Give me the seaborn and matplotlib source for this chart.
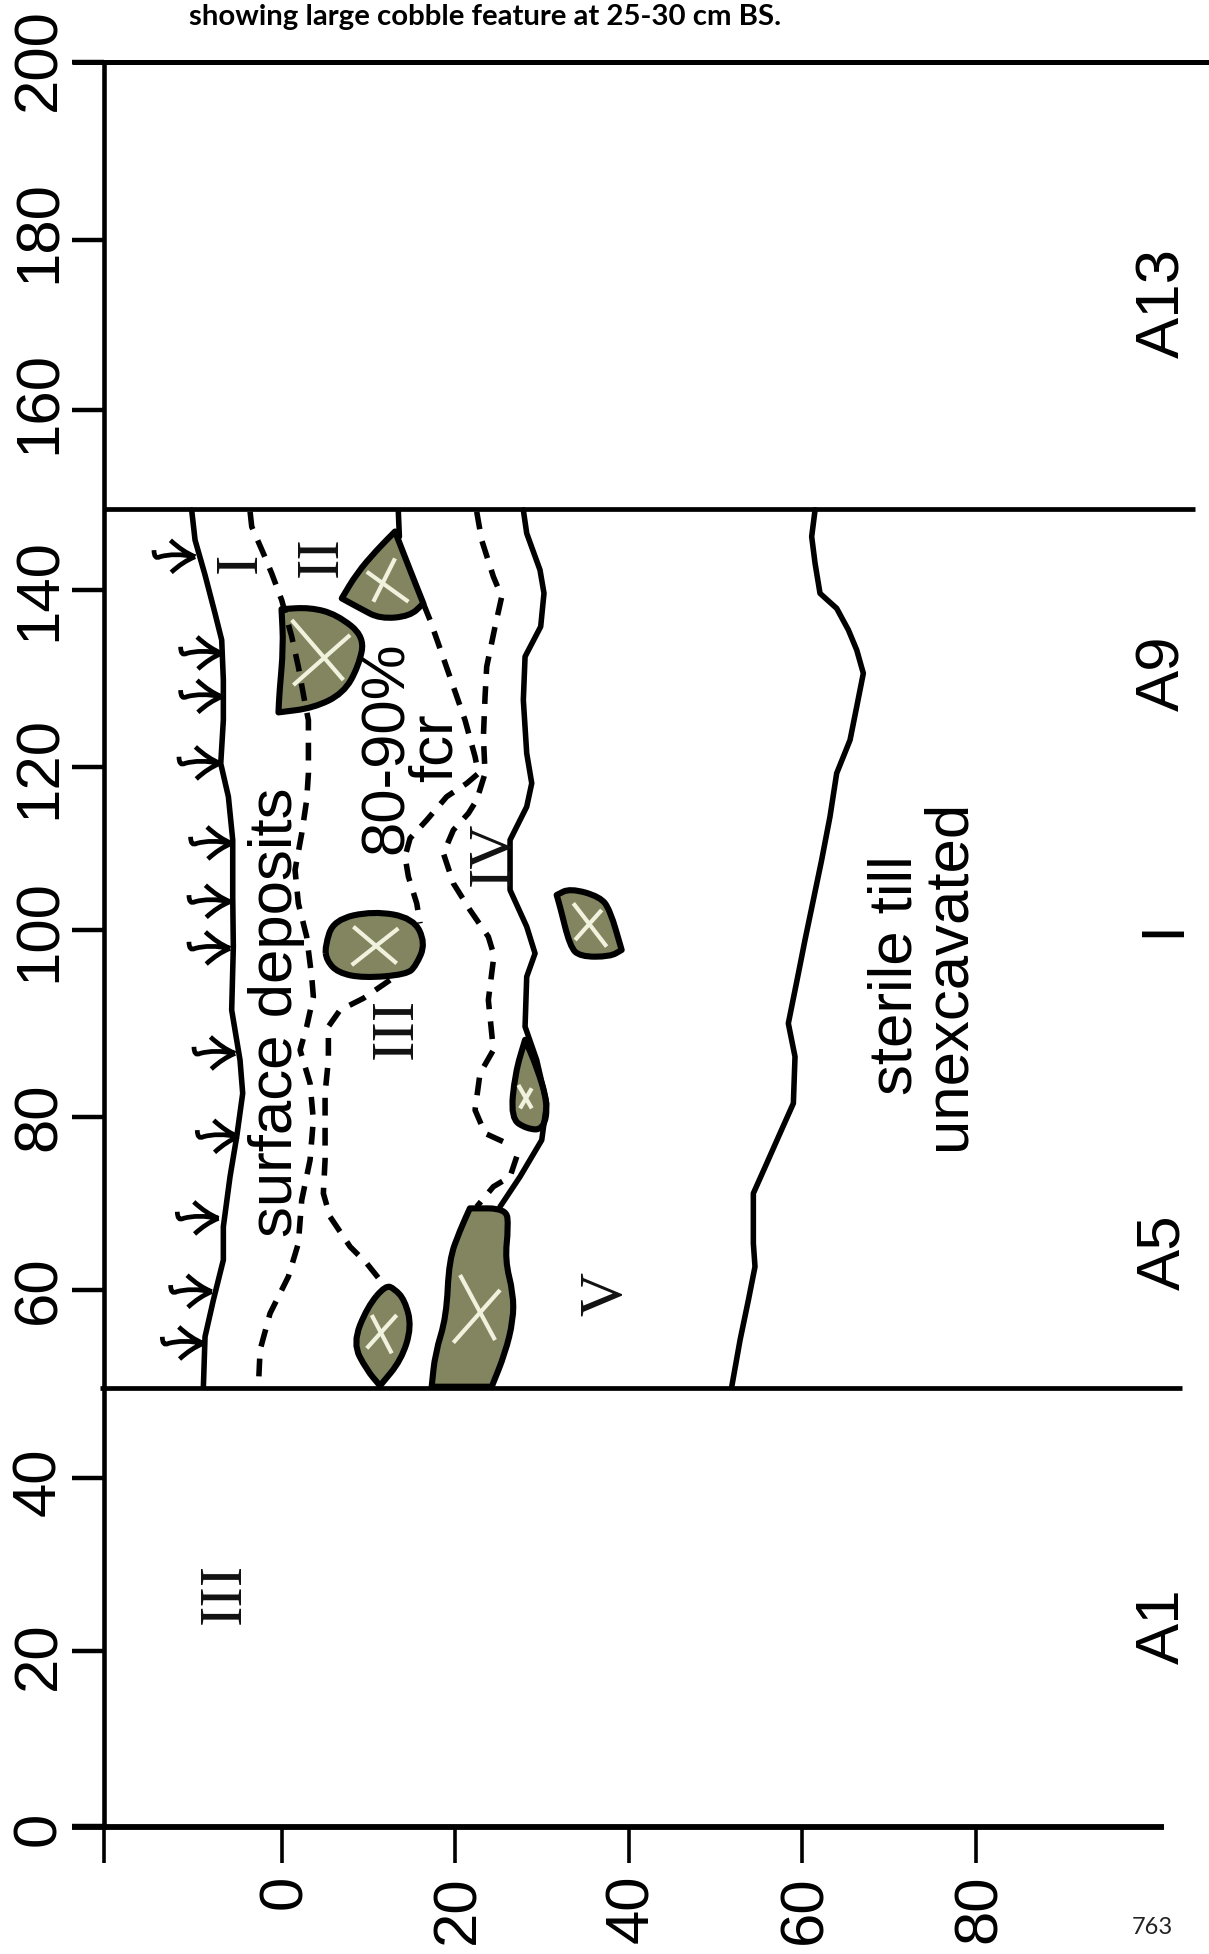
import matplotlib
matplotlib.use("Agg")
import matplotlib.pyplot as plt
from matplotlib.path import Path
from matplotlib.patches import PathPatch
from matplotlib.transforms import ScaledTranslation
import seaborn as sns

# ---- axis values
x_ticks = [0, 20, 40, 60, 80]
y_tick_labels = [0, 20, 40, 60, 80, 100, 120, 140, 160, 180, 200]
# the scanned vertical axis is slightly uneven: ticks as they sit on the picture
y_tick_positions = [0.15, 20.0, 39.6, 60.85, 80.45, 101.6, 120.1, 140.2, 160.6, 179.8, 200]
y_label_shift_px = [3, 5, 4, 0, 0, 0, 0, 0, -7, -9, -2]
x_limits = (-20.45, 101.67)
y_limits = (0, 200)
upper_unit_line = 149.4
lower_unit_line = 49.8

# ---- stratigraphic contacts: depth (cm) and distance along the profile (cm)
surface_depth = [-10.35, -9.96, -8.81, -7.66, -6.89, -6.70, -6.70, -7.0, -6.12, -5.62, -5.62, -5.55,
                 -5.74, -4.78, -4.47, -5.16, -5.93, -6.70, -6.70, -7.85, -8.81, -9.0]
surface_dist = [149.23, 145.83, 141.87, 137.52, 134.5, 129.97, 125.43, 120.5, 116.75, 111.84, 105.4, 99.75,
                92.57, 86.91, 83.13, 78.22, 73.69, 68.02, 64.25, 59.71, 55.56, 49.89]

contact1_depth = [-3.62, -3.43, -2.09, -1.13, 0.02, 1.18, 1.94, 2.71, 3.10, 3.10, 2.90, 2.33, 1.56, 1.94,
                  2.90, 3.48, 3.67, 2.90, 2.14, 3.29, 3.67, 3.29, 2.33, 1.94, 0.79, -1.32, -2.47, -2.66]
contact1_dist = [149.04, 147.34, 144.32, 142.05, 139.03, 134.88, 131.48, 127.32, 125.43, 119.39, 116.37,
                 112.59, 108.44, 104.66, 100.88, 96.35, 94.09, 90.69, 88.04, 84.26, 80.11, 75.58, 71.04,
                 66.14, 62.36, 58.2, 54.05, 49.89]

contact2_top_depth = [13.46, 13.58]
contact2_top_dist = [149.04, 146.21]
contact2_mid_depth = [16.34, 17.11, 18.46, 19.80, 21.14, 22.30, 22.68, 21.34, 19.03, 16.73, 14.81, 14.23,
                      14.62, 15.58, 15.96]
contact2_mid_dist = [138.65, 136.77, 132.99, 129.21, 125.43, 121.28, 119.39, 118.26, 116.75, 114.1, 112.03,
                     109.95, 107.68, 104.66, 102.39]
contact2_low_depth = [12.50, 9.43, 6.74, 5.40, 5.40, 5.02, 5.02, 5.02, 4.82, 5.59, 7.90, 9.82, 12.12]
contact2_low_dist = [95.97, 93.9, 92.57, 90.69, 86.91, 83.13, 79.35, 75.58, 71.8, 69.16, 65.76, 63.87, 61.04]

contact3_depth = [22.49, 23.06, 24.41, 25.37, 24.6, 23.64, 23.45, 23.26, 23.45, 22.49, 21.53, 19.80, 18.65,
                  19.80, 21.72, 23.83, 24.41, 24.41, 23.83, 24.41, 22.87, 22.3, 23.45, 25.56]
contact3_dist = [149.04, 145.83, 141.68, 139.41, 136.01, 131.48, 128.08, 123.55, 119.39, 116.37, 114.86,
                 112.97, 110.33, 106.93, 103.9, 100.88, 98.99, 98.24, 93.71, 88.04, 85.4, 81.24, 78.6, 77.65]
contact3_low_depth = [27.1, 26.33, 24.41, 22.49]
contact3_low_dist = [75.96, 73.69, 72.56, 70.29]

contact4_depth = [27.86, 28.25, 29.78, 30.24, 29.86, 28.06, 27.86, 28.25, 28.83, 28.25, 26.33, 26.33, 28.25,
                  29.21, 28.25, 28.06, 29.4, 30.55, 29.98, 27.48, 25.18]
contact4_dist = [149.24, 146.59, 142.44, 139.8, 136.02, 132.62, 127.7, 121.66, 118.27, 115.61, 111.84,
                 106.17, 102.02, 98.99, 96.35, 90.69, 86.91, 82.0, 77.84, 73.69, 70.29]

till_depth = [61.47, 61.08, 61.47, 62.04, 63.96, 65.31, 66.27, 67.03, 66.27, 65.5, 63.96, 63.19, 62.23, 61.27,
              60.31, 59.55, 58.39, 59.16, 58.97, 57.43, 55.9, 54.36, 54.36, 54.55, 53.79, 52.83, 51.87]
till_dist = [149.24, 146.22, 143.19, 139.79, 138.09, 135.64, 133.37, 130.73, 126.95, 123.17, 119.4, 114.49,
             109.58, 105.04, 100.51, 96.73, 91.06, 87.29, 82.0, 78.6, 75.2, 71.8, 66.14, 63.49, 59.71, 55.18,
             49.89]

# ---- cobbles (outline, then the two strokes of each cross); a repeated point is a sharp corner
cobble_a_depth = [13.08, 13.08, 14.81, 16.34, 16.34, 14.81, 11.35, 9.05, 6.94, 6.94, 8.66, 10.97]
cobble_a_dist = [146.8, 146.8, 142.43, 138.65, 138.65, 137.2, 136.9, 138.09, 139.22, 139.22, 142.05, 144.7]
cobble_b_depth = [0.0, 0.0, 3.29, 6.36, 9.6, 8.86, 7.13, 3.67, -0.35, -0.35, -0.25, 0.22]
cobble_b_dist = [138.0, 138.0, 138.2, 137.4, 134.88, 131.48, 128.46, 126.8, 126.3, 126.3, 128.46, 133.74]
cobble_c_depth = [5.0, 6.0, 10.58, 15.19, 16.6, 15.5, 14.42, 9.43, 6.5, 5.2]
cobble_c_dist = [99.75, 102.8, 103.8, 103.0, 100.13, 97.6, 96.6, 96.2, 96.8, 98.2]
cobble_d_depth = [31.7, 31.7, 33.24, 36.7, 37.85, 39.19, 39.19, 37.85, 34.39, 33.24, 32.09]
cobble_d_dist = [105.61, 105.61, 106.37, 105.42, 103.91, 99.38, 99.38, 98.62, 98.62, 99.76, 104.29]
cobble_e_depth = [28.06, 28.06, 29.4, 30.7, 30.2, 28.25, 26.4, 26.91]
cobble_e_dist = [89.2, 89.2, 86.15, 82.0, 79.0, 79.1, 80.3, 85.4]
cobble_f_depth = [21.7, 21.7, 25.9, 26.14, 25.75, 26.7, 26.7, 25.76, 24.22, 24.22, 17.3, 17.3, 17.7, 19.0,
                  19.3, 20.57]
cobble_f_dist = [70.1, 70.1, 70.1, 68.02, 64.25, 60.47, 57.45, 53.67, 49.89, 49.89, 49.89, 49.89, 53.67, 57.82,
                 64.25, 67.64]
cobble_g_depth = [12.0, 13.0, 14.2, 15.0, 13.8, 11.35, 11.35, 9.82, 8.2, 9.9]
cobble_g_dist = [61.4, 61.0, 59.71, 56.69, 52.91, 50.0, 50.0, 51.78, 54.8, 58.96]

cross_a = [[13.08, 10.58, 143.75, 138.84], [9.82, 14.62, 142.24, 138.84]]
cross_b = [[1.18, 7.13, 136.77, 129.97], [1.37, 7.90, 129.4, 135.07]]
cross_c = [[8.09, 13.46, 97.67, 101.83], [8.28, 13.27, 102.02, 97.86]]
cross_d = [[33.62, 37.46, 104.67, 99.76], [33.82, 36.89, 100.51, 103.91]]
cross_e = [[27.29, 28.83, 84.08, 81.43], [27.48, 28.83, 81.43, 83.7]]
cross_f = [[20.57, 24.6, 62.55, 55.18], [19.8, 25.18, 54.88, 60.85]]
cross_g = [[10.39, 12.7, 58.01, 53.67], [9.82, 13.27, 54.24, 58.01]]

# ---- vegetation symbols on the surface
plant_depth = [-9.96, -6.89, -6.89, -7.08, -5.74, -5.93, -5.93, -5.35, -4.97, -7.27, -8.04, -9.0]
plant_dist = [143.94, 132.99, 128.08, 120.53, 111.46, 104.85, 99.56, 87.66, 78.22, 68.97, 60.66, 54.8]

# ---- labels
unit_labels = ["A13", "A9", "I", "A5", "A1"]
unit_dist = [172.7, 130.76, 101.8, 65.08, 22.7]
roman_labels = ["I", "II", "III", "IV", "V", "III"]
roman_depth = [-4.7, 4.64, 13.25, 24.45, 37.5, -6.55]
roman_dist = [143.2, 143.9, 90.5, 110.3, 60.4, 26.5]
caption = "showing large cobble feature at 25-30 cm BS."
page_number = "763"

sns.set_theme(style="white")
plt.rcParams["font.family"] = ["Liberation Sans", "DejaVu Sans"]

W, H = 1209, 1954
fig = plt.figure(figsize=(W / 100, H / 100), dpi=100, facecolor="white")
ax = fig.add_axes([104 / W, (H - 1827) / H, 1060 / W, 1765 / H])
ax.set_xlim(*x_limits)
ax.set_ylim(*y_limits)
ax.set_facecolor("none")
for side in ["top", "right", "bottom"]:
    ax.spines[side].set_visible(False)
ax.spines["left"].set_color("black")
ax.spines["left"].set_linewidth(3.3)

ax.set_xticks([x_limits[0]] + x_ticks)
ax.set_xticklabels([""] + [str(v) for v in x_ticks], rotation=90, fontsize=44.5, color="black")
ax.set_yticks(y_tick_positions)
ax.set_yticklabels([str(v) for v in y_tick_labels], rotation=90, va="center", fontsize=44.5, color="black")
ax.tick_params(axis="x", length=26, width=2.6, color="black", pad=8.5, bottom=True)
ax.tick_params(axis="y", length=23, width=3.2, color="black", pad=2.5, left=True)
for lab in ax.get_xticklabels():
    lab.set_transform(lab.get_transform() + ScaledTranslation(4 / 100, 0, fig.dpi_scale_trans))
for lab, dy in zip(ax.get_yticklabels(), y_label_shift_px):
    lab.set_transform(lab.get_transform() + ScaledTranslation(0, -dy / 100, fig.dpi_scale_trans))

# frame lines extending past the axes
rule_kw = dict(color="black", clip_on=False, zorder=6)
ax.hlines(0, -24.1, 101.67, linewidth=4.2, **rule_kw)
ax.hlines(200, -24.1, 106.9, linewidth=3.6, **rule_kw)
ax.hlines(upper_unit_line, -20.45, 105.2, linewidth=3.4, **rule_kw)
ax.hlines(lower_unit_line, -20.9, 103.8, linewidth=3.4, **rule_kw)

LW = 4.0
DASH = (0, (3.2, 2.2))


def contact(x, y, dashed=False):
    kw = dict(linestyle=DASH) if dashed else dict(solid_joinstyle="round", solid_capstyle="round")
    sns.lineplot(x=x, y=y, sort=False, estimator=None, color="black", linewidth=LW, ax=ax, zorder=4, **kw)


contact(surface_depth, surface_dist)
contact(contact1_depth, contact1_dist, True)
contact(contact2_top_depth, contact2_top_dist)
contact(contact2_mid_depth, contact2_mid_dist, True)
contact(contact2_low_depth, contact2_low_dist, True)
contact(contact3_depth, contact3_dist, True)
contact(contact3_low_depth, contact3_low_dist, True)
contact(contact4_depth, contact4_dist)
contact(till_depth, till_dist)


def rounded_outline(xs, ys):
    """Closed outline with the read points as quadratic control points."""
    n = len(xs)
    mid = lambda i: ((xs[i % n] + xs[(i + 1) % n]) / 2, (ys[i % n] + ys[(i + 1) % n]) / 2)
    verts, codes = [mid(-1)], [Path.MOVETO]
    for i in range(n):
        verts += [(xs[i], ys[i]), mid(i)]
        codes += [Path.CURVE3, Path.CURVE3]
    return Path(verts, codes)


cobbles = [
    (cobble_a_depth, cobble_a_dist, cross_a),
    (cobble_b_depth, cobble_b_dist, cross_b),
    (cobble_c_depth, cobble_c_dist, cross_c),
    (cobble_d_depth, cobble_d_dist, cross_d),
    (cobble_e_depth, cobble_e_dist, cross_e),
    (cobble_f_depth, cobble_f_dist, cross_f),
    (cobble_g_depth, cobble_g_dist, cross_g),
]
for cx, cy, cross in cobbles:
    ax.add_patch(PathPatch(rounded_outline(cx, cy), facecolor="#82855f", edgecolor="black",
                           linewidth=4.4, joinstyle="round", zorder=3))
    for x0, x1, y0, y1 in cross:
        ax.plot([x0, x1], [y0, y1], color="#f1f2dd", linewidth=3.0, zorder=3.5, solid_capstyle="butt")

plant_path = Path(
    [(0, 0), (-0.5, 0.1), (-0.85, 0.0), (-1.0, -0.08), (-1.0, 0.16),
     (0, 0), (-0.3, 0.12), (-0.6, 0.4),
     (0, 0), (-0.3, -0.12), (-0.58, -0.38)],
    [Path.MOVETO, Path.CURVE3, Path.CURVE3, Path.CURVE3, Path.CURVE3,
     Path.MOVETO, Path.CURVE3, Path.CURVE3,
     Path.MOVETO, Path.CURVE3, Path.CURVE3],
)
ax.scatter(plant_depth, plant_dist, s=3500, marker=plant_path, facecolors="none",
           edgecolors="black", linewidths=3.4, zorder=4)

big = dict(rotation=90, ha="center", va="center", fontsize=44.5, color="black", zorder=5)
for lab, d in zip(unit_labels, unit_dist):
    ax.text(101.6, d, lab, clip_on=False, **big)
ax.text(-0.55, 92.34, "surface deposits", **big)
ax.text(15.0, 122.3, "80-90%\nfcr", linespacing=0.8, multialignment="center", **big)
ax.text(73.83, 96.58, "sterile till\nunexcavated", linespacing=0.9, multialignment="center", **big)
for lab, x, y in zip(roman_labels, roman_depth, roman_dist):
    ax.text(x, y, lab, rotation=90, ha="center", va="center", fontsize=44, color="#111111",
            family="Liberation Serif", zorder=5)

fig.text(189 / W, 1 - 17 / H, caption, family="Lato", weight="bold", fontsize=21.2, color="black",
         ha="left", va="center")
fig.text(1152 / W, 1 - 1927 / H, page_number, family="Lato", fontsize=17, color="#222222",
         ha="center", va="center")

fig.savefig("out.png", dpi=100, facecolor="white")
